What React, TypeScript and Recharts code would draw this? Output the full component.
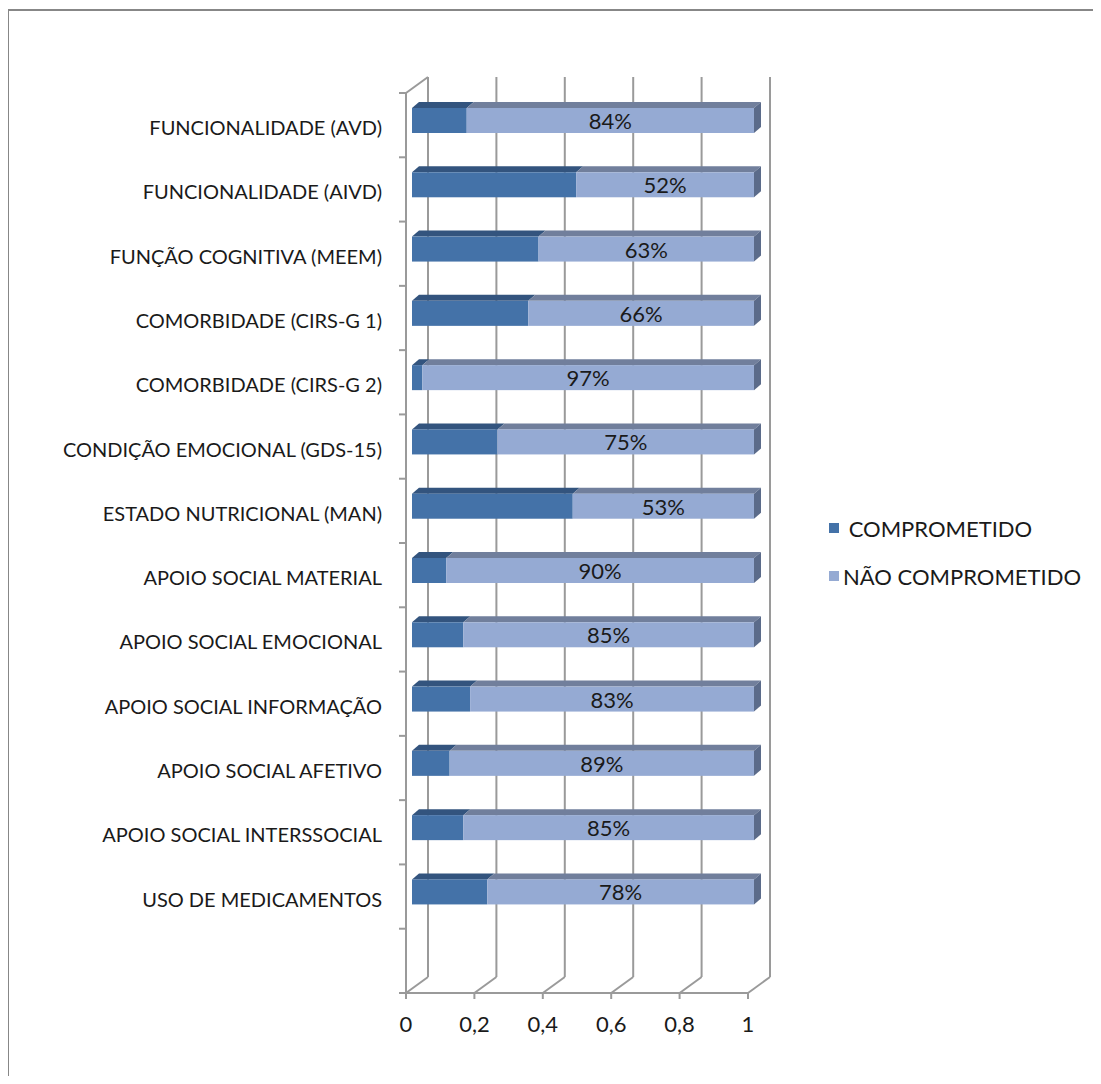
import React from 'react';
import { BarChart, Bar, XAxis, YAxis, CartesianGrid, Legend, LabelList } from 'recharts';

const categories = [
  'FUNCIONALIDADE (AVD)',
  'FUNCIONALIDADE (AIVD)',
  'FUNÇÃO COGNITIVA (MEEM)',
  'COMORBIDADE (CIRS-G 1)',
  'COMORBIDADE (CIRS-G 2)',
  'CONDIÇÃO EMOCIONAL (GDS-15)',
  'ESTADO NUTRICIONAL (MAN)',
  'APOIO SOCIAL MATERIAL',
  'APOIO SOCIAL EMOCIONAL',
  'APOIO SOCIAL INFORMAÇÃO',
  'APOIO SOCIAL AFETIVO',
  'APOIO SOCIAL INTERSSOCIAL',
  'USO DE MEDICAMENTOS',
];
const comprometido = [0.16, 0.48, 0.37, 0.34, 0.03, 0.25, 0.47, 0.10, 0.15, 0.17, 0.11, 0.15, 0.22];
const naoComprometido = [0.84, 0.52, 0.63, 0.66, 0.97, 0.75, 0.53, 0.90, 0.85, 0.83, 0.89, 0.85, 0.78];
const xTicks = [0, 0.2, 0.4, 0.6, 0.8, 1];
const seriesNames = [' COMPROMETIDO', 'NÃO COMPROMETIDO'];

const data = categories.map((name, i) => ({ name, comp: comprometido[i], nao: naoComprometido[i] }));

const FONT = 'Lato, "Open Sans", sans-serif';
const GRID = '#9a9a9a';
const WX = 22, WY = 16; // wall depth
const DX = 7, DY = 6; // bar depth
const OX = 6, OY = -5; // bar offset
const PLOT_H = 900;
const BAND = PLOT_H / 14;

const makeShape = (front: string, top: string, side?: string) => (props: any) => {
  const { x, y, width, height } = props;
  if (width == null || height == null) return <g />;
  const fx = x + OX, fy = y + OY;
  return (
    <g>
      <polygon points={`${fx},${fy} ${fx + DX},${fy - DY} ${fx + width + DX},${fy - DY} ${fx + width},${fy}`} fill={top} />
      {side && (
        <polygon points={`${fx + width},${fy} ${fx + width + DX},${fy - DY} ${fx + width + DX},${fy + height - DY} ${fx + width},${fy + height}`} fill={side} />
      )}
      <rect x={fx} y={fy} width={width} height={height} fill={front} />
    </g>
  );
};

const gridLine = (p: any) => {
  const { x1, x2, index } = p;
  const yt = Math.min(p.y1, p.y2);
  const yb = Math.max(p.y1, p.y2);
  return (
    <g key={p.key}>
      <line x1={x1 + WX} y1={yt - WY} x2={x2 + WX} y2={yb - WY} stroke={GRID} strokeWidth={2} />
      <line x1={x2} y1={yb} x2={x2 + WX} y2={yb - WY} stroke={GRID} strokeWidth={2} />
      {index === 0 && <line x1={x1} y1={yt} x2={x1 + WX} y2={yt - WY} stroke={GRID} strokeWidth={2} />}
    </g>
  );
};

const CategoryTick = (props: any) => {
  const { x, y, payload, index } = props;
  return (
    <g>
      {index === 0 && <line x1={x - 7} y1={y - BAND / 2} x2={x} y2={y - BAND / 2} stroke={GRID} strokeWidth={2} />}
      <line x1={x - 7} y1={y + BAND / 2} x2={x} y2={y + BAND / 2} stroke={GRID} strokeWidth={2} />
      {index === categories.length - 1 && (
        <line x1={x - 7} y1={y + BAND * 1.5} x2={x} y2={y + BAND * 1.5} stroke={GRID} strokeWidth={2} />
      )}
      <text x={x - 24} y={y + 2} textAnchor="end" dominantBaseline="central" fontFamily={FONT} fontSize={20} fill="#1a1a1a">
        {payload.value}
      </text>
    </g>
  );
};

const XTick = (props: any) => {
  const { x, y, payload } = props;
  return (
    <text x={x} y={y + 2} textAnchor="middle" dominantBaseline="central" fontFamily={FONT} fontSize={22} fill="#1a1a1a">
      {String(payload.value).replace('.', ',')}
    </text>
  );
};

const PctLabel = (props: any) => {
  const { x, y, width, height, value } = props;
  return (
    <text x={x + width / 2 + OX} y={y + height / 2 + OY} textAnchor="middle" dominantBaseline="central" fontFamily={FONT} fontSize={22} fill="#1a1a1a">
      {Math.round(value * 100)}%
    </text>
  );
};

const LegendContent = (props: any) => {
  const payload = props.payload || [];
  return (
    <div style={{ fontFamily: FONT, fontSize: 22, color: '#1a1a1a' }}>
      {payload.map((item: any, i: number) => (
        <div key={i} style={{ display: 'flex', alignItems: 'center', height: 48 }}>
          <span style={{ display: 'inline-block', width: 10, height: 10, background: item.color, marginRight: 4 }} />
          <span style={{ whiteSpace: 'pre' }}>{item.value}</span>
        </div>
      ))}
    </div>
  );
};

export default function App() {
  return (
    <div style={{ position: 'relative', width: 1085, height: 1068 }}>
      <div
        style={{
          position: 'absolute',
          left: -1,
          top: 1,
          width: 1094,
          height: 1067,
          borderTop: '2px solid #878787',
          borderLeft: '2px solid #878787',
          boxSizing: 'border-box',
        }}
      />
      <BarChart
        width={1085}
        height={1040}
        data={data}
        layout="vertical"
        margin={{ top: 85, right: 345, bottom: 25, left: 0 }}
        barSize={25}
      >
        <CartesianGrid horizontal={false} vertical={gridLine} stroke={GRID} />
        <XAxis
          type="number"
          domain={[0, 1]}
          ticks={xTicks}
          interval={0}
          height={30}
          tickSize={6}
          tickMargin={22}
          axisLine={{ stroke: GRID, strokeWidth: 2 }}
          tickLine={{ stroke: GRID, strokeWidth: 2 }}
          tick={<XTick />}
        />
        <YAxis
          type="category"
          dataKey="name"
          width={398}
          interval={0}
          tickSize={0}
          tickMargin={0}
          padding={{ top: 0, bottom: BAND }}
          axisLine={{ stroke: GRID, strokeWidth: 2 }}
          tickLine={false}
          tick={<CategoryTick />}
        />
        <Legend
          layout="vertical"
          verticalAlign="middle"
          align="center"
          wrapperStyle={{ position: 'absolute', left: 821, top: 496, width: 270 }}
          content={<LegendContent />}
        />
        <Bar
          dataKey="comp"
          name={seriesNames[0]}
          stackId="a"
          fill="#4472a8"
          isAnimationActive={false}
          shape={makeShape('#4472a8', '#33547e')}
        />
        <Bar
          dataKey="nao"
          name={seriesNames[1]}
          stackId="a"
          fill="#95aad3"
          isAnimationActive={false}
          shape={makeShape('#95aad3', '#717f9c', '#5b6b8a')}
        >
          <LabelList dataKey="nao" content={<PctLabel />} />
        </Bar>
      </BarChart>
    </div>
  );
}
